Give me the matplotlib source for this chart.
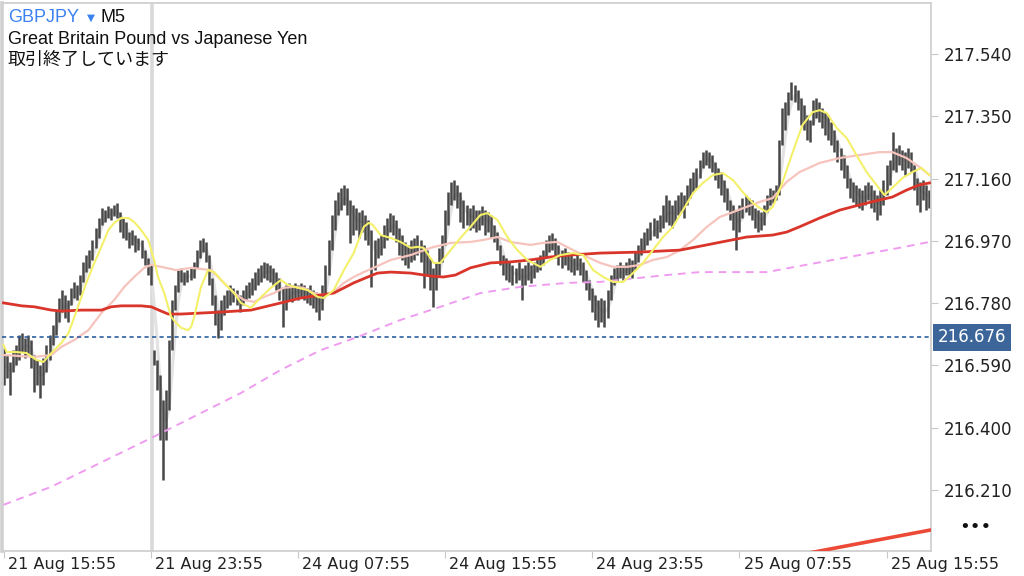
import numpy as np
import pandas as pd
import matplotlib
matplotlib.use("Agg")
import matplotlib.pyplot as plt

# ---------------- data (each bar = 10 minutes, GBPJPY) ----------------
highs = [
216.644, 216.622, 216.601, 216.637, 216.653, 216.683, 216.689, 216.674, 216.683, 216.668,
216.622, 216.607, 216.592, 216.613, 216.653, 216.683, 216.714, 216.759, 216.796, 216.820,
216.805, 216.790, 216.827, 216.845, 216.836, 216.866, 216.906, 216.927, 216.942, 216.973,
217.010, 217.040, 217.071, 217.064, 217.077, 217.071, 217.080, 217.086, 217.058, 217.040,
217.028, 216.997, 217.003, 216.988, 216.979, 216.973, 216.942, 216.918, 216.897, 216.637,
216.607, 216.561, 216.485, 216.515, 216.668, 216.790, 216.836, 216.881, 216.888, 216.875,
216.881, 216.888, 216.906, 216.942, 216.973, 216.979, 216.967, 216.927, 216.857, 216.805,
216.759, 216.790, 216.805, 216.820, 216.836, 216.827, 216.820, 216.805, 216.820, 216.836,
216.845, 216.857, 216.875, 216.888, 216.897, 216.906, 216.903, 216.897, 216.888, 216.875,
216.857, 216.827, 216.836, 216.842, 216.836, 216.842, 216.836, 216.842, 216.836, 216.827,
216.836, 216.820, 216.814, 216.805, 216.836, 216.897, 216.973, 217.049, 217.095, 217.119,
217.132, 217.141, 217.132, 217.095, 217.080, 217.071, 217.058, 217.064, 217.049, 217.034,
217.003, 216.973, 216.979, 216.988, 217.019, 217.040, 217.055, 217.049, 217.034, 217.010,
216.988, 216.967, 216.958, 216.973, 216.979, 216.988, 216.973, 216.958, 216.942, 216.918,
216.888, 216.906, 216.949, 216.988, 217.064, 217.119, 217.150, 217.156, 217.141, 217.119,
217.095, 217.080, 217.071, 217.080, 217.064, 217.064, 217.077, 217.064, 217.058, 217.049,
217.019, 216.997, 216.958, 216.927, 216.918, 216.906, 216.897, 216.888, 216.906, 216.888,
216.897, 216.906, 216.897, 216.906, 216.918, 216.927, 216.942, 216.973, 216.988, 216.994,
216.979, 216.958, 216.942, 216.949, 216.936, 216.927, 216.918, 216.927, 216.918, 216.906,
216.881, 216.851, 216.827, 216.805, 216.790, 216.796, 216.790, 216.820, 216.866, 216.888,
216.897, 216.906, 216.897, 216.906, 216.918, 216.912, 216.936, 216.958, 216.979, 216.997,
217.010, 217.028, 217.040, 217.034, 217.049, 217.080, 217.110, 217.095, 217.080, 217.095,
217.110, 217.119, 217.110, 217.141, 217.162, 217.180, 217.193, 217.217, 217.241, 217.247,
217.241, 217.232, 217.211, 217.193, 217.180, 217.156, 217.132, 217.095, 217.080, 217.064,
217.080, 217.101, 217.110, 217.101, 217.095, 217.071, 217.064, 217.058, 217.080, 217.110,
217.132, 217.125, 217.141, 217.278, 217.376, 217.394, 217.424, 217.455, 217.446, 217.430,
217.406, 217.385, 217.354, 217.339, 217.400, 217.406, 217.394, 217.376, 217.363, 217.354,
217.333, 217.308, 217.278, 217.254, 217.232, 217.202, 217.162, 217.150, 217.141, 217.132,
217.125, 217.141, 217.150, 217.141, 217.125, 217.110, 217.125, 217.156, 217.202, 217.217,
217.302, 217.254, 217.263, 217.247, 217.241, 217.254, 217.241, 217.202, 217.162, 217.150,
217.156, 217.141, 217.125]

lows = [
216.531, 216.552, 216.500, 216.570, 216.592, 216.607, 216.631, 216.613, 216.622, 216.583,
216.509, 216.531, 216.491, 216.531, 216.570, 216.607, 216.653, 216.683, 216.723, 216.753,
216.735, 216.723, 216.775, 216.796, 216.790, 216.805, 216.845, 216.875, 216.888, 216.912,
216.949, 216.979, 217.019, 217.028, 217.040, 217.034, 217.046, 217.040, 216.997, 216.979,
216.973, 216.949, 216.958, 216.936, 216.942, 216.918, 216.897, 216.866, 216.836, 216.592,
216.515, 216.363, 216.241, 216.363, 216.454, 216.637, 216.759, 216.814, 216.845, 216.836,
216.845, 216.851, 216.857, 216.888, 216.918, 216.936, 216.906, 216.836, 216.775, 216.714,
216.674, 216.698, 216.744, 216.766, 216.775, 216.784, 216.775, 216.753, 216.775, 216.790,
216.796, 216.805, 216.820, 216.836, 216.845, 216.857, 216.851, 216.845, 216.836, 216.820,
216.790, 216.708, 216.759, 216.790, 216.784, 216.796, 216.790, 216.796, 216.790, 216.781,
216.775, 216.766, 216.753, 216.729, 216.759, 216.805, 216.866, 216.942, 217.003, 217.049,
217.064, 217.080, 217.049, 216.964, 216.988, 217.003, 216.979, 216.997, 216.973, 216.958,
216.830, 216.881, 216.918, 216.927, 216.949, 216.973, 216.997, 216.988, 216.967, 216.927,
216.912, 216.897, 216.888, 216.906, 216.912, 216.927, 216.906, 216.827, 216.866, 216.820,
216.769, 216.820, 216.866, 216.906, 216.958, 217.019, 217.080, 217.095, 217.071, 217.028,
217.010, 217.019, 217.003, 217.010, 216.997, 217.003, 217.019, 216.988, 216.997, 216.979,
216.967, 216.942, 216.897, 216.866, 216.851, 216.845, 216.836, 216.842, 216.851, 216.790,
216.836, 216.851, 216.842, 216.857, 216.875, 216.881, 216.897, 216.918, 216.936, 216.942,
216.918, 216.897, 216.888, 216.897, 216.881, 216.875, 216.866, 216.881, 216.866, 216.845,
216.820, 216.790, 216.753, 216.729, 216.708, 216.723, 216.708, 216.735, 216.790, 216.836,
216.845, 216.857, 216.851, 216.866, 216.866, 216.857, 216.881, 216.906, 216.927, 216.942,
216.958, 216.973, 216.985, 216.979, 216.997, 217.010, 217.028, 217.019, 217.010, 217.028,
217.049, 217.058, 217.040, 217.080, 217.101, 217.119, 217.132, 217.162, 217.193, 217.202,
217.193, 217.180, 217.156, 217.132, 217.110, 217.089, 217.064, 217.034, 217.003, 216.942,
216.997, 217.040, 217.058, 217.049, 217.034, 217.010, 216.997, 217.003, 217.019, 217.058,
217.080, 217.086, 217.095, 217.110, 217.263, 217.308, 217.354, 217.400, 217.394, 217.369,
217.324, 217.308, 217.278, 217.272, 217.324, 217.345, 217.333, 217.315, 217.293, 217.278,
217.263, 217.241, 217.211, 217.186, 217.162, 217.132, 217.101, 217.089, 217.080, 217.071,
217.064, 217.080, 217.095, 217.071, 217.058, 217.034, 217.049, 217.080, 217.110, 217.141,
217.186, 217.180, 217.202, 217.186, 217.171, 217.193, 217.180, 217.125, 217.080, 217.058,
217.095, 217.064, 217.071]

# moving averages (bar position, price)
ma_yellow_x = [0, 1, 4.2, 7.5, 10.7, 13, 15.6, 18.9, 21.2, 23.1, 24.7, 27, 29.6, 31.9, 34.2, 36.1,
               38.4, 40.7, 42.6, 44.9, 47.2, 49.1, 50.4, 52.4, 54.7, 56.3, 57.9, 60.2, 61.2, 62.2,
               64.4, 66.7, 68.7, 71.9, 75.2, 77.4, 80.7, 84, 87.2, 90.5, 92.7, 96, 99.2, 102.5,
               104.5, 107.7, 111, 114.2, 117.5, 119.1, 120.4, 123, 126.3, 129.5, 132.8, 135, 137,
               140.3, 142.5, 145.8, 149, 152.3, 155.5, 157.8, 161.1, 164.3, 167.6, 170.8, 175.1,
               178.3, 181.6, 185.8, 189.1, 192.3, 195.6, 198.8, 202.1, 205.3, 208.6, 211.8, 215.1,
               218.3, 221.6, 224.9, 228.1, 231.4, 234.6, 237.9, 241.1, 244.4, 246.6, 248.9, 250.9,
               254.1, 257.4, 260.6, 263.9, 266.2, 268.5, 271.7, 275, 278.2, 281.5, 284.7, 287.3,
               289.9, 293.2, 296.4, 299.4, 302]
ma_yellow = [216.653, 216.631, 216.631, 216.628, 216.607, 216.601, 216.628, 216.659, 216.689, 216.738,
             216.781, 216.842, 216.903, 216.952, 217.003, 217.025, 217.040, 217.040, 217.028, 217.003,
             216.973, 216.912, 216.860, 216.811, 216.738, 216.720, 216.705, 216.698, 216.708, 216.738,
             216.830, 216.881, 216.875, 216.842, 216.811, 216.781, 216.766, 216.799, 216.827, 216.851,
             216.836, 216.827, 216.820, 216.799, 216.796, 216.820, 216.881, 216.933, 217.013, 217.025,
             217.019, 216.988, 216.979, 216.967, 216.949, 216.952, 216.949, 216.903, 216.903, 216.942,
             216.979, 217.013, 217.049, 217.055, 217.034, 216.982, 216.942, 216.912, 216.891, 216.912,
             216.927, 216.933, 216.927, 216.881, 216.860, 216.845, 216.845, 216.872, 216.903, 216.942,
             216.982, 217.013, 217.064, 217.116, 217.147, 217.171, 217.177, 217.156, 217.119, 217.086,
             217.071, 217.058, 217.074, 217.150, 217.241, 217.324, 217.363, 217.369, 217.360, 217.315,
             217.284, 217.232, 217.180, 217.141, 217.110, 217.132, 217.162, 217.180, 217.193, 217.171]

ma_pink_x = [0, 10.1, 15.6, 18.9, 23.1, 27.7, 31.9, 36.1, 39.4, 42.6, 45.9, 48.2, 51.4, 56.3, 61.2,
             67.7, 70.9, 75.2, 78.4, 81.7, 84.9, 88.2, 91.4, 94.7, 97.9, 101.2, 104.5, 107.7, 111,
             114.2, 117.5, 120.7, 126.3, 132.8, 139.3, 145.8, 152.3, 156.5, 161.1, 165.3, 171.8, 176,
             180.6, 185.8, 190.4, 194.6, 198.8, 203.4, 207.6, 211.8, 216.4, 220.6, 224.9, 229.4,
             233.6, 237.9, 242.4, 246.6, 250.9, 255.4, 259.6, 266.2, 272.7, 279.2, 285.7, 289.9,
             294.5, 298.7, 302]
ma_pink = [216.622, 216.616, 216.622, 216.647, 216.668, 216.698, 216.750, 216.790, 216.830, 216.860,
           216.888, 216.897, 216.891, 216.881, 216.888, 216.881, 216.851, 216.811, 216.790, 216.784,
           216.799, 216.811, 216.827, 216.830, 216.827, 216.811, 216.805, 216.814, 216.842, 216.860,
           216.875, 216.888, 216.912, 216.927, 216.949, 216.964, 216.967, 216.973, 216.982, 216.967,
           216.958, 216.964, 216.967, 216.942, 216.921, 216.903, 216.891, 216.891, 216.897, 216.912,
           216.921, 216.942, 216.973, 217.013, 217.043, 217.058, 217.074, 217.089, 217.101, 217.150,
           217.180, 217.208, 217.223, 217.232, 217.241, 217.241, 217.223, 217.196, 217.171]

ma_red_x = [0, 5.9, 10.1, 15.6, 18.9, 25.4, 31.9, 35.1, 38.4, 44.9, 48.2, 51.4, 53.7, 57.9, 70.9,
            80.7, 90.5, 97, 103.5, 107.7, 114.2, 118.8, 122, 126.3, 132.8, 139.3, 143.5, 147.4,
            152.3, 158.8, 165.3, 171.8, 178.3, 184.8, 194.6, 207.6, 220.6, 229.4, 235.9, 242.4,
            250.9, 255.4, 259.6, 266.2, 272.7, 279.2, 285.7, 289.9, 294.5, 298.7, 302]
ma_red = [216.781, 216.772, 216.769, 216.759, 216.756, 216.759, 216.759, 216.769, 216.772, 216.772,
          216.769, 216.756, 216.747, 216.747, 216.753, 216.759, 216.781, 216.796, 216.805, 216.811,
          216.842, 216.860, 216.872, 216.875, 216.872, 216.863, 216.860, 216.866, 216.888, 216.903,
          216.906, 216.912, 216.921, 216.927, 216.933, 216.936, 216.942, 216.958, 216.970, 216.982,
          216.988, 216.997, 217.013, 217.040, 217.064, 217.080, 217.095, 217.104, 217.125, 217.141,
          217.147]

ma_violet_x = [0, 15.6, 48.2, 51.4, 64.4, 77.4, 90.5, 103.5, 115.5, 129.5, 142.5, 155.5, 168.6,
               183.9, 194.6, 216.4, 227.1, 248.9, 270.4, 292.2, 302]
ma_violet = [216.165, 216.220, 216.369, 216.384, 216.445, 216.506, 216.577, 216.637, 216.677, 216.729,
             216.769, 216.811, 216.830, 216.842, 216.845, 216.866, 216.875, 216.875, 216.912, 216.949,
             216.967]

ma_long_x = [230, 302.3]
ma_long = [215.960, 216.088]

current_price = 216.676
y_ticks = [216.210, 216.400, 216.590, 216.780, 216.970, 217.160, 217.350, 217.540]
x_tick_pos = [0, 48, 96, 144, 192, 240, 288]
x_tick_labels = ["21 Aug 15:55", "21 Aug 23:55", "24 Aug 07:55", "24 Aug 15:55",
                 "24 Aug 23:55", "25 Aug 07:55", "25 Aug 15:55"]
session_break = 48.5

# ---------------- figure ----------------
plt.rcParams['font.family'] = ['Liberation Sans', 'Noto Sans CJK JP', 'DejaVu Sans']
W, H = 1024, 576
fig = plt.figure(figsize=(W / 100, H / 100), dpi=100)
ax = fig.add_axes([2 / W, 25 / H, 929 / W, 548 / H])

n = len(highs)
idx = np.arange(n)
hi = np.array(highs)
lo = np.array(lows)
mid = pd.Series((hi + lo) / 2)
fast = mid.rolling(3, min_periods=1).mean()

ax.plot(idx, fast, color='#e2e2e2', lw=2.2, zorder=1.5)
ax.vlines(idx, lo, hi, color='#474747', lw=1.8, zorder=2)
ax.plot(ma_pink_x, ma_pink, color='#f6c4bd', lw=1.6, zorder=3)
ax.plot(ma_red_x, ma_red, color='#d9352a', lw=2.0, zorder=3.2)
ax.plot(ma_yellow_x, ma_yellow, color='#f4f06a', lw=1.5, zorder=3.4)
ax.plot(ma_violet_x, ma_violet, color='#ef9cf0', lw=1.4, ls=(0, (4, 3)), zorder=3)
ax.plot(ma_long_x, ma_long, color='#ec4a36', lw=2.6, zorder=3)

ax.axhline(current_price, color='#2d5f9e', lw=1.2, ls=(0, (2.5, 2)), zorder=4)
ax.axvline(session_break, color='#d9d9d9', lw=2.6, zorder=1)

ax.set_xlim(-0.5, n - 0.5)
ax.set_ylim(216.024, 217.696)

for s in ['top', 'bottom', 'right']:
    ax.spines[s].set_color('#d0d0d0')
    ax.spines[s].set_linewidth(1.3)
ax.spines['left'].set_color('#d0d0d0')
ax.spines['left'].set_linewidth(2.6)

ax.yaxis.tick_right()
ax.set_yticks(y_ticks)
ax.set_yticklabels([f"{v:.3f}" for v in y_ticks], family=['DejaVu Sans'])
ax.tick_params(axis='y', length=5, color='#c8c8c8', labelsize=12, labelcolor='#222222', pad=4)
ax.set_xticks(x_tick_pos)
ax.set_xticklabels([])
ax.tick_params(axis='x', length=5, color='#c8c8c8')
for t, lab in zip(x_tick_pos, x_tick_labels):
    ax.annotate(lab, xy=(t, 0), xycoords=('data', 'axes fraction'), xytext=(3, -4.5),
                textcoords='offset points', ha='left', va='top', fontsize=11.5,
                color='#222222', annotation_clip=False, family=['DejaVu Sans'])

ax.annotate(f"{current_price:.3f}", xy=(1, current_price), xycoords=('axes fraction', 'data'),
            xytext=(5, 0), textcoords='offset points', ha='left', va='center', fontsize=12,
            color='white', annotation_clip=False, family=['DejaVu Sans'],
            bbox=dict(boxstyle='square,pad=0.28', fc='#3c6699', ec='none'))

# header texts
fig.text(8 / W, 1 - 17 / H, "GBPJPY", color='#3b82f0', fontsize=13, va='center', ha='left')
fig.text(87 / W, 1 - 18 / H, "▼", color='#3b82f0', fontsize=7.5, va='center', ha='left',
         family=['DejaVu Sans'])
fig.text(101 / W, 1 - 17 / H, "M5", color='#111111', fontsize=13, va='center', ha='left')
fig.text(8 / W, 1 - 40 / H, "Great Britain Pound vs Japanese Yen", color='#111111',
         fontsize=13, va='center', ha='left')
fig.text(8 / W, 1 - 60 / H, "取引終了しています", color='#111111', fontsize=13,
         va='center', ha='left')
fig.text(975 / W, 1 - 527 / H, "•••", color='#111111', fontsize=13, va='center', ha='center',
         family=['DejaVu Sans'])

fig.savefig("out.png", dpi=100)
